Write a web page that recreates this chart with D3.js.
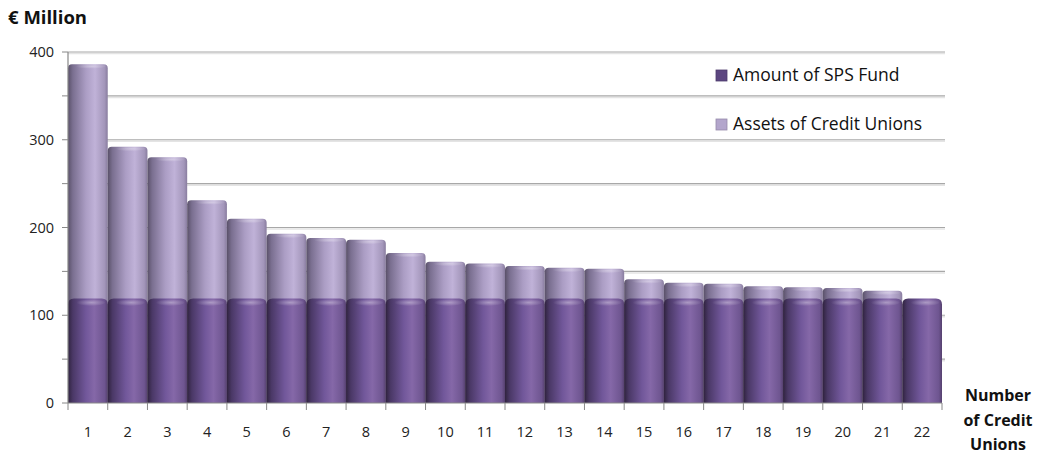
<!DOCTYPE html>
<html><head><meta charset="utf-8">
<script src="https://cdn.jsdelivr.net/npm/d3@7"></script>
<style>body{margin:0;background:#fff;} svg{display:block;font-family:"Open Sans","Liberation Sans",sans-serif;}</style>
</head><body>
<svg id="c" width="1039" height="457"></svg>
<script>
const categories = ["1","2","3","4","5","6","7","8","9","10","11","12","13","14","15","16","17","18","19","20","21","22"];
const spsFund = [119,119,119,119,119,119,119,119,119,119,119,119,119,119,119,119,119,119,119,119,119,119];
const assets = [386,292,280,231,210,193,188,186,171,161,159,156,154,153,141,137,136,133,132,131,128,119];
const yTicks = [0,100,200,300,400];

const svg = d3.select("#c");
const m = {l:68, r:942, t:52, b:403};
const x = d3.scaleBand().domain(categories).range([m.l, m.r]).padding(0);
const y = d3.scaleLinear().domain([0,400]).range([m.b, m.t]);

const defs = svg.append("defs");
function grad(id, stops){
  const g = defs.append("linearGradient").attr("id",id).attr("x1","0").attr("x2","1").attr("y1","0").attr("y2","0");
  stops.forEach(s=>g.append("stop").attr("offset",s[0]).attr("stop-color",s[1]));
}
grad("gA",[[0,"#5a5169"],[0.12,"#7a6f90"],[0.45,"#ab9dc4"],[0.68,"#c0b2d8"],[0.92,"#a396ba"],[1,"#887c9e"]]);
grad("gS",[[0,"#30233f"],[0.12,"#4a3866"],[0.45,"#71579a"],[0.66,"#8568a8"],[0.92,"#6e5590"],[1,"#55406e"]]);
const cap = defs.append("radialGradient").attr("id","cap").attr("cx","0.55").attr("cy","0.5").attr("r","0.5");
cap.append("stop").attr("offset",0).attr("stop-color","#ffffff").attr("stop-opacity",0.35);
cap.append("stop").attr("offset",1).attr("stop-color","#ffffff").attr("stop-opacity",0);

// gridlines
const grid = d3.range(50,401,50);
svg.append("g").selectAll("line").data(grid).join("line")
  .attr("x1",m.l).attr("x2",945).attr("y1",d=>y(d)+1.5).attr("y2",d=>y(d)+1.5)
  .attr("stroke","#e4e4e4").attr("stroke-width",1.5);
svg.append("g").selectAll("line").data(grid).join("line")
  .attr("x1",m.l).attr("x2",945).attr("y1",d=>y(d)).attr("y2",d=>y(d))
  .attr("stroke","#a8a8a8").attr("stroke-width",1.2);

function barPath(x0,w,yTop,yBot,r){
  return `M${x0},${yBot}L${x0},${yTop+r}Q${x0},${yTop} ${x0+r},${yTop}L${x0+w-r},${yTop}Q${x0+w},${yTop} ${x0+w},${yTop+r}L${x0+w},${yBot}Z`;
}
const bw = x.bandwidth();
const gBars = svg.append("g");
categories.forEach((c,i)=>{
  const x0 = x(c);
  if (assets[i] > spsFund[i]) {
    gBars.append("path").attr("d",barPath(x0,bw,y(assets[i]),y(0),4)).attr("fill","url(#gA)");
    gBars.append("ellipse").attr("cx",x0+bw*0.55).attr("cy",y(assets[i])+2).attr("rx",bw*0.4).attr("ry",2.5).attr("fill","url(#cap)");
  }
  gBars.append("path").attr("d",barPath(x0,bw,y(spsFund[i]),y(0),6)).attr("fill","url(#gS)");
  gBars.append("ellipse").attr("cx",x0+bw*0.55).attr("cy",y(spsFund[i])+4).attr("rx",bw*0.38).attr("ry",3.5).attr("fill","url(#cap)");
});

// axes
const yAxis = svg.append("g");
yAxis.append("line").attr("x1",m.l).attr("x2",m.l).attr("y1",m.t).attr("y2",m.b).attr("stroke","#888").attr("stroke-width",1.2);
yAxis.selectAll(".t").data(grid.concat([0])).join("line").attr("x1",m.l-6).attr("x2",m.l).attr("y1",d=>y(d)).attr("y2",d=>y(d)).attr("stroke","#888");
yAxis.selectAll("text").data(yTicks).join("text").attr("x",54).attr("y",d=>y(d)+5).attr("text-anchor","end")
  .attr("font-size",14.5).attr("fill","#222").text(d=>d);

const xAxis = svg.append("g");
xAxis.append("line").attr("x1",m.l).attr("x2",m.r).attr("y1",m.b).attr("y2",m.b).attr("stroke","#888").attr("stroke-width",1.2);
xAxis.selectAll(".t").data(categories.concat(["end"])).join("line")
  .attr("x1",(d,i)=>m.l+i*bw).attr("x2",(d,i)=>m.l+i*bw).attr("y1",m.b).attr("y2",m.b+7).attr("stroke","#888");
xAxis.selectAll("text").data(categories).join("text").attr("x",d=>x(d)+bw/2).attr("y",437).attr("text-anchor","middle")
  .attr("font-size",14.5).attr("fill","#222").text(d=>d);

svg.append("text").attr("x",8).attr("y",24).attr("font-size",18.5).attr("font-weight","bold").attr("fill","#111").text("€ Million");
const xl = svg.append("text").attr("font-size",16).attr("font-weight","bold").attr("fill","#111").attr("text-anchor","middle");
[["Number",401],["of Credit",426],["Unions",450]].forEach(([t,yy])=>xl.append("tspan").attr("x",998).attr("y",yy).text(t));

// legend
const legend = [["Amount of SPS Fund","#5c4680"],["Assets of Credit Unions","#b3a6cc"]];
legend.forEach(([t,col],i)=>{
  const yy = 75 + i*49;
  svg.append("rect").attr("x",716).attr("y",yy-5).attr("width",11).attr("height",11).attr("fill",col).attr("stroke",d3.color(col).darker(0.5)).attr("stroke-width",0.8);
  svg.append("text").attr("x",733).attr("y",yy+6).attr("font-size",17.5).attr("fill","#111").text(t);
});
</script>
</body></html>
